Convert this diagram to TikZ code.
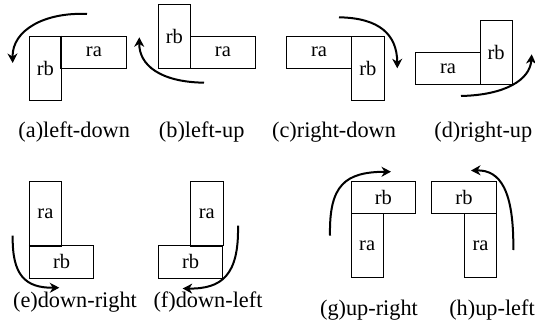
\documentclass[tikz,border=0pt]{standalone}
\usepackage{fontspec}
\setmainfont{Liberation Serif}
\usetikzlibrary{arrows.meta}
\tikzset{
  hbox/.style={draw, line width=0.9pt, minimum width=64.6pt, minimum height=32.3pt, inner sep=0pt, font=\fontsize{20.5}{22}\selectfont},
  vbox/.style={draw, line width=0.9pt, minimum width=32.3pt, minimum height=64.6pt, inner sep=0pt, font=\fontsize{20.5}{22}\selectfont},
  turn/.style={line width=2pt, -{Stealth[length=9.5pt,width=10pt,inset=3pt]}},
  caption/.style={inner sep=0pt, font=\fontsize{22.3}{24}\selectfont}
}
\begin{document}
\begin{tikzpicture}[x=1pt,y=-1pt]
\useasboundingbox (0,0) rectangle (535,331);
% (a)
\node[vbox] (arb) at (45.45,68.3) {rb};
\node[hbox] (ara) at (93.9,52.15) {ra};
\draw[line width=1.6pt] (ara.north west) -- (ara.south west);
\coordinate (as) at (87,14); \coordinate (ae) at (12.7,63);
\draw[turn] (as) .. controls (45,12) and (12,30) .. (ae);
\node[caption] (la) at (74.2,131.7) {(a)left-down};
% (b)
\node[vbox] (brb) at (174.45,36.3) {rb};
\node[hbox] (bra) at (222.9,52.15) {ra};
\coordinate (bs) at (204,82.7); \coordinate (be) at (139.3,37.3);
\draw[turn] (bs) .. controls (160,82) and (139,65) .. (be);
\node[caption] (lb) at (201.7,131.7) {(b)left-up};
% (c)
\node[hbox] (cra) at (319,52.15) {ra};
\node[vbox] (crb) at (367.85,68.3) {rb};
\coordinate (cs) at (339,17.3); \coordinate (ce) at (397.3,68.3);
\draw[turn] (cs) .. controls (380,18) and (397,35) .. (ce);
\node[caption] (lc) at (334,131.7) {(c)right-down};
% (d)
\node[hbox] (dra) at (448,68.45) {ra};
\node[vbox] (drb) at (496.15,52.3) {rb};
\coordinate (ds) at (461,96); \coordinate (de) at (531.7,54.3);
\draw[turn] (ds) .. controls (505,95) and (530,80) .. (de);
\node[caption] (ld) at (483.3,131.7) {(d)right-up};
% (e)
\node[vbox] (era) at (45.45,213.3) {ra};
\node[hbox] (erb) at (61.6,261.85) {rb};
\draw[line width=1.6pt] (era.south west) -- (era.south east);
\coordinate (es) at (12.7,235.7); \coordinate (ee) at (59.3,287.7);
\draw[turn] (es) .. controls (12,275) and (25,288) .. (ee);
\node[caption] (le) at (75,301.7) {(e)down-right};
% (f)
\node[vbox] (fra) at (206.85,213.3) {ra};
\node[hbox] (frb) at (190.6,261.85) {rb};
\draw[line width=1.6pt] (fra.south west) -- (fra.south east);
\coordinate (fs) at (238,225.7); \coordinate (fe) at (182.7,288.5);
\draw[turn] (fs) .. controls (239,275) and (222,289) .. (fe);
\node[caption] (lf) at (208,301.7) {(f)down-left};
% (g)
\node[hbox] (grb) at (383.3,197.15) {rb};
\node[vbox] (gra) at (367.15,245.6) {ra};
\coordinate (gs) at (330,235.7); \coordinate (ge) at (391,171.7);
\draw[turn] (gs) .. controls (329,185) and (345,172) .. (ge);
\node[caption] (lg) at (369,310) {(g)up-right};
% (h)
\node[hbox] (hrb) at (464,197.15) {rb};
\node[vbox] (hra) at (480.5,245.6) {ra};
\coordinate (hs) at (513.3,250); \coordinate (he) at (471,170.5);
\draw[turn] (hs) .. controls (514,190) and (500,170) .. (he);
\node[caption] (lh) at (492,310) {(h)up-left};
\end{tikzpicture}
\end{document}
